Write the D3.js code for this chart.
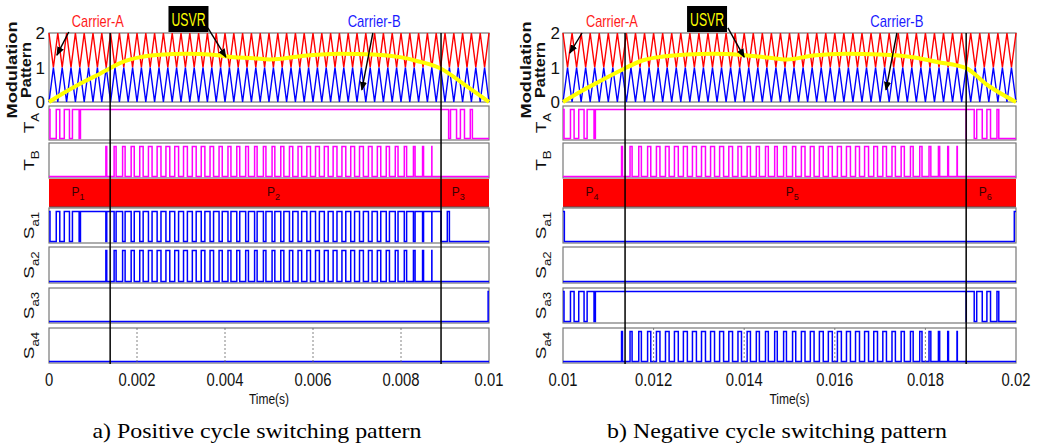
<!DOCTYPE html>
<html>
<head>
<meta charset="utf-8">
<script src="https://cdn.jsdelivr.net/npm/d3@7"></script>
<style>
  body { margin: 0; background: #fff; }
  .sans { font-family: 'Liberation Sans', Arial, sans-serif; }
  .serif { font-family: 'Liberation Serif', 'Times New Roman', Times, serif; }
</style>
</head>
<body>
<svg id="chart" width="1037" height="445"></svg>
<script>
// ── data ────────────────────────────────────────────────────
const ticksPos = [0, 0.002, 0.004, 0.006, 0.008, 0.01];
const ticksNeg = [0.01, 0.012, 0.014, 0.016, 0.018, 0.02];
const tickLabelsPos = ['0', '0.002', '0.004', '0.006', '0.008', '0.01'];
const tickLabelsNeg = ['0.01', '0.012', '0.014', '0.016', '0.018', '0.02'];
const modTicks = [0, 1, 2];

// USVR reference (time in s, value)
const usvrPosT = [0, 0.0004, 0.00078, 0.00116, 0.00139, 0.00168, 0.00207, 0.00252, 0.00313, 0.00373, 0.00419, 0.00465, 0.00502, 0.00586, 0.00661, 0.00737, 0.00798, 0.00836, 0.00889, 0.0095, 0.01];
const usvrPosV = [0, 0.31, 0.58, 0.82, 0.98, 1.16, 1.30, 1.37, 1.40, 1.37, 1.30, 1.27, 1.23, 1.35, 1.40, 1.38, 1.30, 1.19, 0.98, 0.45, 0];
const usvrNegT = [0.01, 0.0104, 0.01078, 0.01116, 0.01137, 0.01177, 0.01221, 0.01273, 0.01332, 0.0139, 0.0145, 0.01494, 0.01552, 0.01626, 0.017, 0.01773, 0.01826, 0.0189, 0.01936, 0.02];
const usvrNegV = [0, 0.31, 0.58, 0.84, 0.98, 1.21, 1.32, 1.38, 1.40, 1.37, 1.29, 1.23, 1.35, 1.40, 1.38, 1.30, 1.16, 0.98, 0.50, 0];

// carrier triangles per half cycle
const carrierCycles = 50;
// comparator settings seen in the switching rows
const pulseLead = 0.0002;   // pulse trains run slightly ahead of the plotted reference
const gainA = 1.28;         // T_A saturates before the reference reaches 1
const offsetB = 0.05;

// region boundaries (USVR crossing 1) and region labels
const boundsPos = [0.00139, 0.00891];
const boundsNeg = [0.01137, 0.0189];
const regionNamesPos = ['1', '2', '3'];
const regionNamesNeg = ['4', '5', '6'];
const regionLabelTPos = [0.00066, 0.0051, 0.0093];
const regionLabelTNeg = [0.01064, 0.01506, 0.01932];

const rowLabels = [['T', 'A'], ['T', 'B'], null, ['S', 'a1'], ['S', 'a2'], ['S', 'a3'], ['S', 'a4']];
const captions = ['a) Positive cycle switching pattern', 'b) Negative cycle switching pattern'];

// ── layout ──────────────────────────────────────────────────
const svg = d3.select('#chart');
const rows = [
  { key: 'TA',  top: 106, bottom: 140, color: '#ff00ff' },
  { key: 'TB',  top: 143, bottom: 178, color: '#ff00ff' },
  { key: 'P',   top: 179, bottom: 207 },
  { key: 'Sa1', top: 208, bottom: 243, color: '#0000ff' },
  { key: 'Sa2', top: 247, bottom: 283, color: '#0000ff' },
  { key: 'Sa3', top: 288, bottom: 323, color: '#0000ff' },
  { key: 'Sa4', top: 328, bottom: 363, color: '#0000ff' },
];
const modTop = 33, modBottom = 102;

const panels = [
  {
    x0: 49, x1: 489, domain: [0, 0.01], ticks: ticksPos, tickLabels: tickLabelsPos,
    usvrT: usvrPosT, usvrV: usvrPosV, bounds: boundsPos,
    regionNames: regionNamesPos, regionT: regionLabelTPos, caption: captions[0], capX: 257, capW: 329,
    labelX: 34, modLabelX: [17, 31], yTickX: 45,
    // logic of each switching row (a = T_A, b = T_B)
    logic: {
      TA: (a, b, t) => a,
      TB: (a, b, t) => b,
      Sa1: (a, b, t) => t < boundsPos[1] ? (a && !b) : (t > 0.00905 && t < 0.0091),
      Sa2: (a, b, t) => b,
      Sa3: (a, b, t) => t > 0.00998,
      Sa4: () => false,
    },
    notes: [
      { text: 'Carrier-A', color: '#ff1a1a', t: 0.00111, from: [0.00045, 2.03], to: [0.00018, 1.36], w: 52 },
      { text: 'USVR', color: '#ffff00', t: 0.00317, box: true, from: [0.00361, 2.15], to: [0.00402, 1.3], w: 34 },
      { text: 'Carrier-B', color: '#1a1aff', t: 0.00739, from: [0.00736, 2.0], to: [0.00711, 0.35], w: 53 },
    ],
  },
  {
    x0: 563, x1: 1016, domain: [0.01, 0.02], ticks: ticksNeg, tickLabels: tickLabelsNeg,
    usvrT: usvrNegT, usvrV: usvrNegV, bounds: boundsNeg,
    regionNames: regionNamesNeg, regionT: regionLabelTNeg, caption: captions[1], capX: 777, capW: 340,
    labelX: 546, modLabelX: [531, 545], yTickX: 560,
    logic: {
      TA: (a, b, t) => a,
      TB: (a, b, t) => b,
      Sa1: (a, b, t) => t < 0.01003 || t > 0.01996,
      Sa2: () => false,
      Sa3: (a, b, t) => a,
      Sa4: (a, b, t) => b,
    },
    notes: [
      { text: 'Carrier-A', color: '#ff1a1a', t: 0.01108, from: [0.01042, 2.0], to: [0.01015, 1.42], w: 52 },
      { text: 'USVR', color: '#ffff00', t: 0.01318, box: true, from: [0.01364, 2.15], to: [0.014, 1.3], w: 34 },
      { text: 'Carrier-B', color: '#1a1aff', t: 0.01737, from: [0.01737, 2.0], to: [0.01713, 0.35], w: 53 },
    ],
  },
];

svg.append('defs').append('marker')
  .attr('id', 'arrow').attr('viewBox', '0 0 10 10')
  .attr('refX', 9).attr('refY', 5)
  .attr('markerWidth', 9).attr('markerHeight', 9)
  .attr('markerUnits', 'userSpaceOnUse').attr('orient', 'auto')
  .append('path').attr('d', 'M0,1 L10,5 L0,9 z').attr('fill', '#000');

// rotated axis label with a subscript, squeezed sideways like the source figure
function subLabel(g, x, y, main, sub, size) {
  const t = g.append('text').attr('class', 'sans')
    .attr('transform', `translate(${x},${y}) scale(0.8,1) rotate(-90)`)
    .attr('text-anchor', 'middle').attr('fill', '#111')
    .attr('font-size', size);
  t.append('tspan').text(main);
  t.append('tspan').attr('font-size', size * 0.7).attr('dy', size * 0.3).text(sub);
}

panels.forEach(p => {
  const g = svg.append('g');
  const x = d3.scaleLinear().domain(p.domain).range([p.x0, p.x1]);
  const yMod = d3.scaleLinear().domain([0, 2]).range([modBottom, modTop]);
  const usvr = d3.scaleLinear().domain(p.usvrT).range(p.usvrV).clamp(true);

  // carriers: triangle vertices, phase-opposed around level 1
  const per = (p.domain[1] - p.domain[0]) / carrierCycles;
  const verts = d3.range(carrierCycles * 2 + 1).map(k => ({
    t: p.domain[0] + k * per / 2,
    a: k % 2 === 0 ? 2 : 1,
    b: k % 2 === 0 ? 0 : 1,
  }));
  const carA = d3.scaleLinear().domain(verts.map(d => d.t)).range(verts.map(d => d.a));
  const carB = d3.scaleLinear().domain(verts.map(d => d.t)).range(verts.map(d => d.b));

  // modulation panel
  g.append('rect').attr('x', p.x0).attr('y', modTop)
    .attr('width', p.x1 - p.x0).attr('height', modBottom - modTop)
    .attr('fill', '#fff').attr('stroke', '#777').attr('stroke-width', 1.2);

  const lineV = key => d3.line().x(d => x(d.t)).y(d => yMod(d[key]));
  g.append('path').datum(verts).attr('d', lineV('a'))
    .attr('fill', 'none').attr('stroke', '#ff0000').attr('stroke-width', 1.4);
  g.append('path').datum(verts).attr('d', lineV('b'))
    .attr('fill', 'none').attr('stroke', '#0000ff').attr('stroke-width', 1.4);

  const ref = p.usvrT.map((t, i) => ({ t, v: p.usvrV[i] }));
  g.append('path').datum(ref)
    .attr('d', d3.line().x(d => x(d.t)).y(d => yMod(d.v)).curve(d3.curveMonotoneX))
    .attr('fill', 'none').attr('stroke', '#ffff00').attr('stroke-width', 4);

  g.selectAll('.ytick').data(modTicks).join('text').attr('class', 'sans')
    .attr('x', p.yTickX).attr('y', d => yMod(d) + 6)
    .attr('text-anchor', 'end').attr('font-size', 17).attr('fill', '#111')
    .text(d => d);

  ['Modulation', 'Pattern'].forEach((s, i) => {
    g.append('text').attr('class', 'sans')
      .attr('transform', `translate(${p.modLabelX[i]},70) rotate(-90)`)
      .attr('text-anchor', 'middle').attr('font-weight', 'bold')
      .attr('font-size', 14).attr('fill', '#111')
      .attr('textLength', i === 0 ? 97 : 56).attr('lengthAdjust', 'spacingAndGlyphs')
      .text(s);
  });

  // switching rows
  const samples = d3.range(0, 4001).map(i => p.domain[0] + (p.domain[1] - p.domain[0]) * i / 4000);
  rows.forEach((r, ri) => {
    if (r.key === 'P') {
      g.append('rect').attr('x', p.x0).attr('y', r.top)
        .attr('width', p.x1 - p.x0).attr('height', r.bottom - r.top)
        .attr('fill', '#ff0000');
      g.append('line').attr('x1', p.x0).attr('x2', p.x1)
        .attr('y1', r.bottom).attr('y2', r.bottom)
        .attr('stroke', '#555').attr('stroke-width', 1.2);
      p.regionNames.forEach((n, i) => {
        const t = g.append('text').attr('class', 'sans')
          .attr('x', x(p.regionT[i])).attr('y', 196)
          .attr('text-anchor', 'middle').attr('font-size', 12).attr('fill', '#3a0000');
        t.append('tspan').text('P');
        t.append('tspan').attr('font-size', 9).attr('dy', 4).text(n);
      });
      return;
    }
    g.append('rect').attr('x', p.x0).attr('y', r.top)
      .attr('width', p.x1 - p.x0).attr('height', r.bottom - r.top)
      .attr('fill', '#fff').attr('stroke', '#777').attr('stroke-width', 1.2);

    const y = d3.scaleLinear().domain([0, 1]).range([r.bottom - 1.5, r.top + 3.5]);
    const pts = samples.map(t => {
      const v = usvr(t + pulseLead);
      const a = v * gainA > carB(t), b = v + offsetB > carA(t);
      return { t, s: p.logic[r.key](a, b, t) ? 1 : 0 };
    });
    g.append('path').datum(pts)
      .attr('d', d3.line().x(d => x(d.t)).y(d => y(d.s)).curve(d3.curveStepAfter))
      .attr('fill', 'none').attr('stroke', r.color).attr('stroke-width', 1.5);

    const lab = rowLabels[ri];
    subLabel(g, p.labelX, (r.top + r.bottom) / 2, lab[0], lab[1], 19);
  });

  // grid lines in the last row
  const last = rows[rows.length - 1];
  g.selectAll('.grid').data(p.ticks.slice(1, -1)).join('line')
    .attr('x1', d => x(d)).attr('x2', d => x(d))
    .attr('y1', last.top).attr('y2', last.bottom)
    .attr('stroke', '#666').attr('stroke-width', 0.8).attr('stroke-dasharray', '2,2');

  // x tick labels
  g.selectAll('.xtick').data(p.ticks).join('text').attr('class', 'sans')
    .attr('transform', d => `translate(${x(d)},386) scale(0.78,1)`)
    .attr('text-anchor', 'middle').attr('font-size', 19).attr('fill', '#111')
    .text((d, i) => p.tickLabels[i]);

  g.append('text').attr('class', 'sans')
    .attr('transform', `translate(${(p.x0 + p.x1) / 2},404) scale(0.8,1)`)
    .attr('text-anchor', 'middle').attr('font-size', 15).attr('fill', '#111')
    .text('Time(s)');

  // region boundaries
  g.selectAll('.bound').data(p.bounds).join('line')
    .attr('x1', d => x(d)).attr('x2', d => x(d))
    .attr('y1', modTop).attr('y2', last.bottom + 1)
    .attr('stroke', '#000').attr('stroke-width', 1.5);

  // annotations
  p.notes.forEach(n => {
    if (n.box) {
      g.append('rect').attr('x', x(n.t) - 20).attr('y', 6)
        .attr('width', 40).attr('height', 26).attr('fill', '#000');
    }
    g.append('text').attr('class', 'sans')
      .attr('x', x(n.t)).attr('y', n.box ? 26 : 27)
      .attr('text-anchor', 'middle').attr('font-size', n.box ? 18 : 17)
      .attr('fill', n.color)
      .attr('textLength', n.w).attr('lengthAdjust', 'spacingAndGlyphs')
      .text(n.text);
    g.append('line')
      .attr('x1', x(n.from[0])).attr('y1', yMod(n.from[1]))
      .attr('x2', x(n.to[0])).attr('y2', yMod(n.to[1]))
      .attr('stroke', '#000').attr('stroke-width', 1.4)
      .attr('marker-end', 'url(#arrow)');
  });

  // caption
  g.append('text').attr('class', 'serif')
    .attr('x', p.capX).attr('y', 438)
    .attr('text-anchor', 'middle')
    .attr('font-size', 21).attr('fill', '#000')
    .attr('textLength', p.capW).attr('lengthAdjust', 'spacingAndGlyphs')
    .text(p.caption);
});
</script>
</body>
</html>
